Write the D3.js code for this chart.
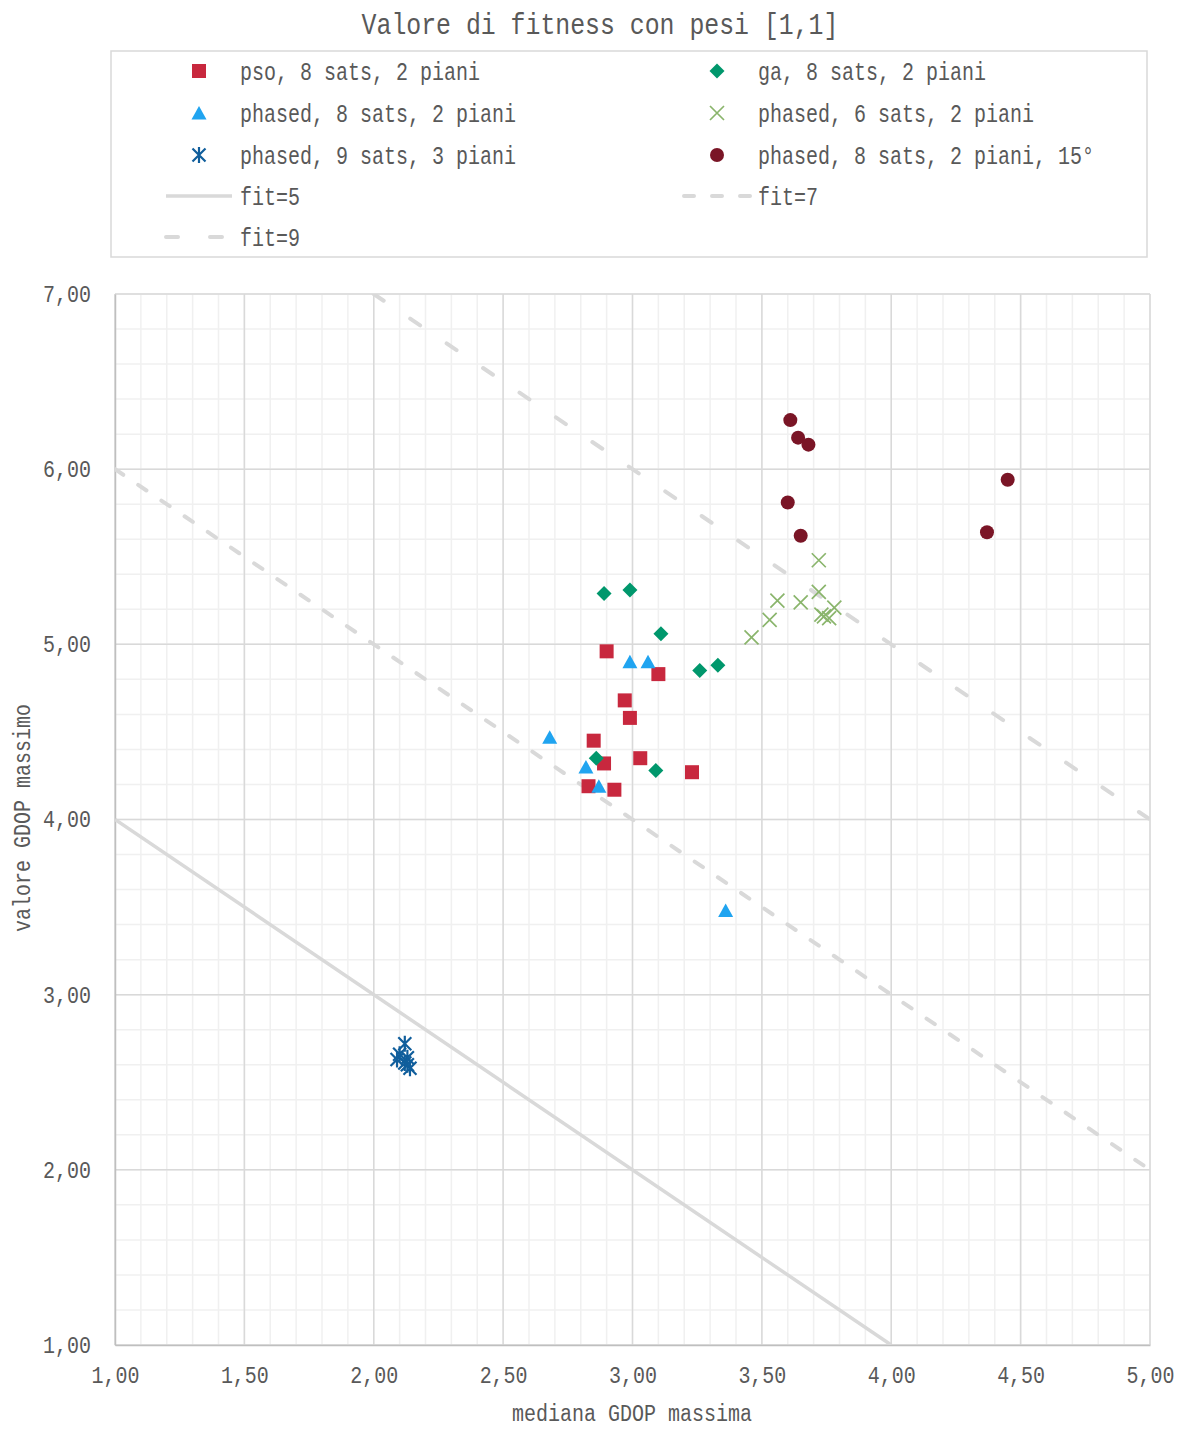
<!DOCTYPE html>
<html>
<head>
<meta charset="utf-8">
<script src="https://cdn.jsdelivr.net/npm/d3@7"></script>
<style>
  body { margin: 0; background: #fff; }
  text { font-family: "Liberation Mono", "DejaVu Sans Mono", monospace; fill: #595959; }
</style>
</head>
<body>
<svg width="1184" height="1429"></svg>
<script>
// ---- data ----
var psoX = [2.90, 3.10, 2.97, 2.99, 2.85, 2.89, 3.03, 3.23, 2.83, 2.93];
var psoY = [4.96, 4.83, 4.68, 4.58, 4.45, 4.32, 4.35, 4.27, 4.19, 4.17];

var gaX = [2.89, 2.99, 3.11, 3.26, 3.33, 2.86, 3.09];
var gaY = [5.29, 5.31, 5.06, 4.85, 4.88, 4.35, 4.28];

var ph8X = [2.99, 3.06, 2.68, 2.82, 2.87, 3.36];
var ph8Y = [4.90, 4.90, 4.47, 4.30, 4.19, 3.48];

var ph6X = [3.72, 3.72, 3.56, 3.65, 3.78, 3.53, 3.46, 3.73, 3.74, 3.76];
var ph6Y = [5.48, 5.30, 5.25, 5.24, 5.21, 5.14, 5.04, 5.17, 5.16, 5.15];

var ph9X = [2.12, 2.10, 2.13, 2.12, 2.13, 2.14, 2.09];
var ph9Y = [2.72, 2.66, 2.64, 2.61, 2.60, 2.58, 2.63];

var ph15X = [3.61, 3.64, 3.68, 4.45, 3.60, 3.65, 4.37];
var ph15Y = [6.28, 6.18, 6.14, 5.94, 5.81, 5.62, 5.64];

var fitValues = [5, 7, 9];
var fitLabels = ["fit=5", "fit=7", "fit=9"];

var seriesNames = [
  "pso, 8 sats, 2 piani",
  "ga, 8 sats, 2 piani",
  "phased, 8 sats, 2 piani",
  "phased, 6 sats, 2 piani",
  "phased, 9 sats, 3 piani",
  "phased, 8 sats, 2 piani, 15°"
];

var xTicks = [1, 1.5, 2, 2.5, 3, 3.5, 4, 4.5, 5];
var yTicks = [1, 2, 3, 4, 5, 6, 7];

// ---- marker shapes ----
var shapes = {
  square: { draw: function (c) { c.rect(-7, -7, 14, 14); } },
  diamond: { draw: function (c) { c.moveTo(0, -7.5); c.lineTo(7.5, 0); c.lineTo(0, 7.5); c.lineTo(-7.5, 0); c.closePath(); } },
  triangle: { draw: function (c) { c.moveTo(0, -7); c.lineTo(7.5, 6.5); c.lineTo(-7.5, 6.5); c.closePath(); } },
  circle: { draw: function (c) { c.moveTo(7, 0); c.arc(0, 0, 7, 0, 2 * Math.PI); } },
  cross: { draw: function (c) { c.moveTo(-7, -7); c.lineTo(7, 7); c.moveTo(7, -7); c.lineTo(-7, 7); } },
  star: { draw: function (c) { c.moveTo(-6.5, -6.5); c.lineTo(6.5, 6.5); c.moveTo(6.5, -6.5); c.lineTo(-6.5, 6.5); c.moveTo(0, -8); c.lineTo(0, 8); } }
};

var series = [
  { name: seriesNames[0], xs: psoX, ys: psoY, shape: "square", color: "#c8283e", stroke: false },
  { name: seriesNames[1], xs: gaX, ys: gaY, shape: "diamond", color: "#00976c", stroke: false },
  { name: seriesNames[2], xs: ph8X, ys: ph8Y, shape: "triangle", color: "#20a4f0", stroke: false },
  { name: seriesNames[3], xs: ph6X, ys: ph6Y, shape: "cross", color: "#8ab56c", stroke: true, sw: 1.7 },
  { name: seriesNames[4], xs: ph9X, ys: ph9Y, shape: "star", color: "#105e9c", stroke: true, sw: 2.2 },
  { name: seriesNames[5], xs: ph15X, ys: ph15Y, shape: "circle", color: "#7a1526", stroke: false }
];

var fitStyles = [
  { dash: null, width: 3.5 },
  { dash: "10,18", width: 4 },
  { dash: "12,32", width: 4 }
];

// squeeze monospace text to the narrow width of the original font
function squeeze(sel, charW) {
  sel.each(function () {
    var t = d3.select(this);
    var n = Array.from(t.text()).length;
    t.attr("textLength", n * charW).attr("lengthAdjust", "spacingAndGlyphs");
  });
}

var svg = d3.select("svg");
var plotL = 115, plotR = 1150, plotT = 294, plotB = 1345;

var x = d3.scaleLinear().domain([1, 5]).range([plotL, plotR]);
var y = d3.scaleLinear().domain([1, 7]).range([plotB, plotT]);

var it = d3.formatLocale({ decimal: ",", thousands: ".", grouping: [3], currency: ["", "€"] });
var fmt = it.format(".2f");

// title
svg.append("text")
  .attr("x", 600).attr("y", 34)
  .attr("text-anchor", "middle")
  .style("font-size", "30px")
  .text("Valore di fitness con pesi [1,1]")
  .call(squeeze, 14.9);

// grid
var grid = svg.append("g");
grid.selectAll(".vmin").data(d3.range(10, 51).map(function (d) { return d / 10; }))
  .enter().append("line")
  .attr("x1", function (d) { return x(d); }).attr("x2", function (d) { return x(d); })
  .attr("y1", plotT).attr("y2", plotB)
  .attr("stroke", "#f0f0f0").attr("stroke-width", 1.5);
grid.selectAll(".hmin").data(d3.range(5, 36).map(function (d) { return d / 5; }))
  .enter().append("line")
  .attr("y1", function (d) { return y(d); }).attr("y2", function (d) { return y(d); })
  .attr("x1", plotL).attr("x2", plotR)
  .attr("stroke", "#f0f0f0").attr("stroke-width", 1.5);
grid.selectAll(".vmaj").data(xTicks)
  .enter().append("line")
  .attr("x1", function (d) { return x(d); }).attr("x2", function (d) { return x(d); })
  .attr("y1", plotT).attr("y2", plotB)
  .attr("stroke", "#d9d9d9").attr("stroke-width", 1.5);
grid.selectAll(".hmaj").data(yTicks)
  .enter().append("line")
  .attr("y1", function (d) { return y(d); }).attr("y2", function (d) { return y(d); })
  .attr("x1", plotL).attr("x2", plotR)
  .attr("stroke", "#d9d9d9").attr("stroke-width", 1.5);

// axes
var xAxis = d3.axisBottom(x).tickValues(xTicks).tickSize(0).tickPadding(22).tickFormat(fmt);
var yAxis = d3.axisLeft(y).tickValues(yTicks).tickSize(0).tickPadding(24).tickFormat(fmt);

var gx = svg.append("g").attr("transform", "translate(0," + plotB + ")").call(xAxis);
var gy = svg.append("g").attr("transform", "translate(" + plotL + ",0)").call(yAxis);
[gx, gy].forEach(function (g) {
  g.select(".domain").attr("stroke", "#bfbfbf").attr("stroke-width", 1.5);
  g.selectAll("text").style("font-size", "23px").attr("fill", "#595959")
    .style("font-family", "Liberation Mono, DejaVu Sans Mono, monospace")
    .call(squeeze, 12);
});
gx.selectAll("text").attr("dy", "0.71em");

// axis titles
svg.append("text")
  .attr("x", 632).attr("y", 1421)
  .attr("text-anchor", "middle")
  .style("font-size", "23px")
  .text("mediana GDOP massima")
  .call(squeeze, 12);
svg.append("text")
  .attr("transform", "translate(30,818) rotate(-90)")
  .attr("text-anchor", "middle")
  .style("font-size", "23px")
  .text("valore GDOP massimo")
  .call(squeeze, 12);

// fit lines x + y = k, clipped to the plot
svg.append("clipPath").attr("id", "plot")
  .append("rect").attr("x", plotL).attr("y", plotT)
  .attr("width", plotR - plotL).attr("height", plotB - plotT);

var fitG = svg.append("g").attr("clip-path", "url(#plot)");
fitValues.forEach(function (k, i) {
  var x0 = Math.max(1, k - 7), x1 = Math.min(5, k - 1);
  fitG.append("line")
    .attr("x1", x(x0)).attr("y1", y(k - x0))
    .attr("x2", x(x1)).attr("y2", y(k - x1))
    .attr("stroke", "#d9d9d9")
    .attr("stroke-width", fitStyles[i].width)
    .attr("stroke-linecap", fitStyles[i].dash ? "round" : "butt")
    .attr("stroke-dasharray", fitStyles[i].dash);
});

// points
series.forEach(function (s) {
  var sym = d3.symbol().type(shapes[s.shape]);
  svg.append("g").selectAll("path")
    .data(s.xs.map(function (v, i) { return [v, s.ys[i]]; }))
    .enter().append("path")
    .attr("d", sym)
    .attr("transform", function (d) { return "translate(" + x(d[0]) + "," + y(d[1]) + ")"; })
    .attr("fill", s.stroke ? "none" : s.color)
    .attr("stroke", s.stroke ? s.color : "none")
    .attr("stroke-width", s.sw || 0);
});

// legend
var legend = svg.append("g");
legend.append("rect")
  .attr("x", 111).attr("y", 51).attr("width", 1036).attr("height", 206)
  .attr("fill", "#fff").attr("stroke", "#d9d9d9").attr("stroke-width", 1.5);

var colX = [199, 717], textX = [240, 758], rowY = [71, 113, 155, 196, 237];

series.forEach(function (s, i) {
  var c = i % 2, r = Math.floor(i / 2);
  legend.append("path")
    .attr("d", d3.symbol().type(shapes[s.shape]))
    .attr("transform", "translate(" + colX[c] + "," + rowY[r] + ")")
    .attr("fill", s.stroke ? "none" : s.color)
    .attr("stroke", s.stroke ? s.color : "none")
    .attr("stroke-width", s.sw || 0);
  legend.append("text")
    .attr("x", textX[c]).attr("y", rowY[r]).attr("dy", "0.36em")
    .style("font-size", "25px")
    .text(s.name)
    .call(squeeze, 12);
});

fitLabels.forEach(function (lab, i) {
  var k = 6 + i, c = k % 2, r = Math.floor(k / 2);
  legend.append("line")
    .attr("x1", textX[c] - 74).attr("x2", textX[c] - 8)
    .attr("y1", rowY[r]).attr("y2", rowY[r])
    .attr("stroke", "#d9d9d9")
    .attr("stroke-width", fitStyles[i].width)
    .attr("stroke-linecap", fitStyles[i].dash ? "round" : "butt")
    .attr("stroke-dasharray", fitStyles[i].dash);
  legend.append("text")
    .attr("x", textX[c]).attr("y", rowY[r]).attr("dy", "0.36em")
    .style("font-size", "25px")
    .text(lab)
    .call(squeeze, 12);
});
</script>
</body>
</html>
